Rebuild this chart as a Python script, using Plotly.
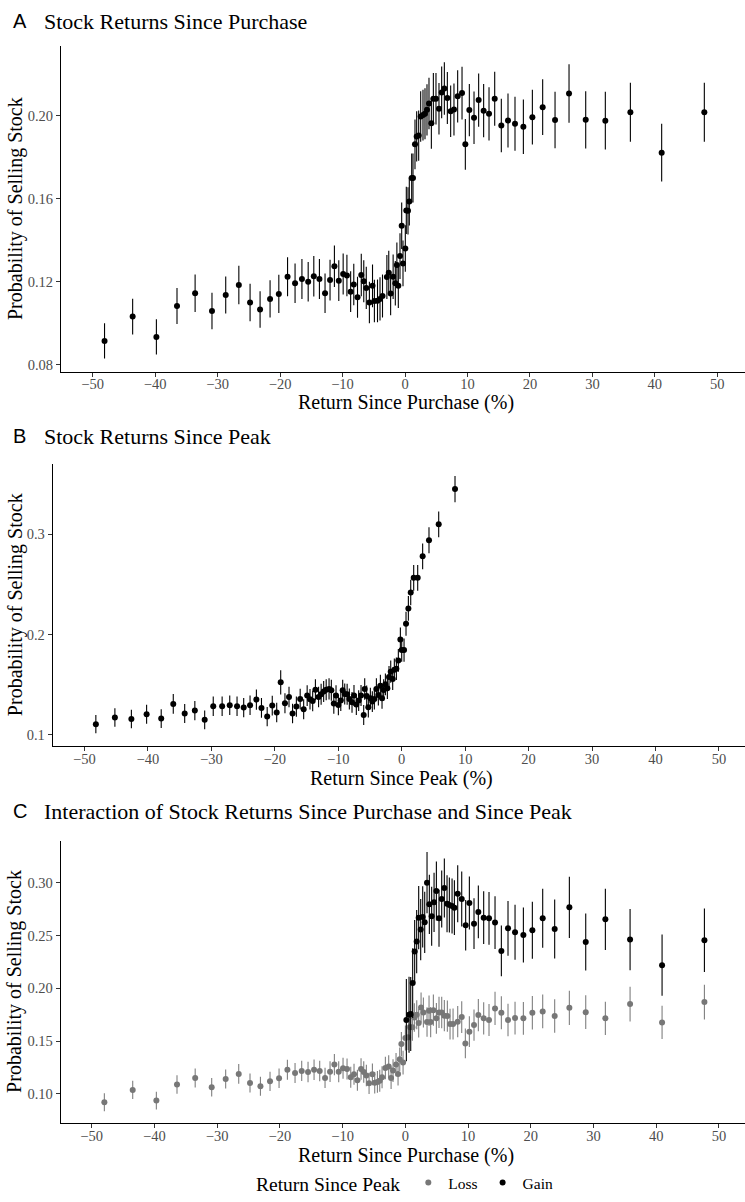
import plotly.graph_objects as go

# ---------------- Panel A: Return since purchase ----------------
a_x = [-48.1, -43.6, -39.8, -36.5, -33.6, -30.9, -28.7, -26.6, -24.8, -23.2, -21.6, -20.2,
       -18.8, -17.6, -16.5, -15.5, -14.6, -13.7, -12.8, -12.0, -11.3, -10.6, -9.9, -9.3,
       -8.7, -8.2, -7.6, -7.0, -6.6, -6.2, -5.7, -5.2, -4.9, -4.4, -4.0, -3.6, -2.9, -2.6,
       -2.3, -1.9, -1.55, -1.3, -1.07, -0.8, -0.53, -0.32, 0.05, 0.21, 0.48, 0.69, 1.07,
       1.28, 1.6, 1.87, 2.19, 2.51, 2.88, 3.2, 3.52, 3.84, 4.22, 4.54, 4.96, 5.44, 5.87,
       6.3, 6.78, 7.31, 7.84, 8.43, 9.13, 9.66, 10.3, 11.05, 11.79, 12.59, 13.45, 14.36,
       15.42, 16.49, 17.61, 18.95, 20.39, 22.04, 24.02, 26.26, 28.93, 32.07, 36.08, 41.09,
       47.92]
a_y = [0.0915, 0.1032, 0.0934, 0.1083, 0.1144, 0.1059, 0.1136, 0.1184, 0.1100, 0.1066, 0.1117,
       0.1141, 0.1224, 0.1192, 0.1213, 0.1200, 0.1226, 0.1213, 0.1144, 0.1208, 0.1274, 0.1205,
       0.1237, 0.1230, 0.1152, 0.1186, 0.1125, 0.1232, 0.1202, 0.1170, 0.1100, 0.1180, 0.1107,
       0.1108, 0.1117, 0.1131, 0.1223, 0.1243, 0.1143, 0.1224, 0.1192, 0.1280, 0.1181, 0.1323,
       0.1469, 0.1288, 0.1360, 0.1543, 0.1541, 0.1586, 0.1699, 0.1699, 0.1861, 0.1899, 0.1903,
       0.1995, 0.2002, 0.2008, 0.2027, 0.2058, 0.1962, 0.2080, 0.2080, 0.2032, 0.2111, 0.2130,
       0.2084, 0.2020, 0.2029, 0.2092, 0.2108, 0.1861, 0.2026, 0.1989, 0.2074, 0.2023, 0.2008,
       0.2080, 0.1952, 0.1976, 0.1960, 0.1946, 0.1992, 0.2040, 0.1978, 0.2106, 0.1979, 0.1975,
       0.2015, 0.1821, 0.2015]
a_err = [0.0085, 0.0086, 0.0085, 0.0087, 0.0090, 0.0088, 0.0089, 0.0093, 0.0090, 0.0088, 0.0090,
         0.0092, 0.0094, 0.0095, 0.0096, 0.0095, 0.0097, 0.0096, 0.0095, 0.0098, 0.0100, 0.0098,
         0.0099, 0.0100, 0.0098, 0.0100, 0.0099, 0.0102, 0.0101, 0.0102, 0.0100, 0.0103, 0.0102,
         0.0103, 0.0104, 0.0104, 0.0106, 0.0106, 0.0105, 0.0107, 0.0107, 0.0108, 0.0108, 0.0110,
         0.0112, 0.0110, 0.0112, 0.0114, 0.0114, 0.0116, 0.0118, 0.0118, 0.0120, 0.0121, 0.0121,
         0.0122, 0.0122, 0.0123, 0.0123, 0.0124, 0.0122, 0.0124, 0.0124, 0.0124, 0.0125, 0.0126,
         0.0125, 0.0124, 0.0125, 0.0126, 0.0127, 0.0122, 0.0126, 0.0126, 0.0128, 0.0128, 0.0128,
         0.0130, 0.0129, 0.0130, 0.0130, 0.0131, 0.0132, 0.0134, 0.0136, 0.0141, 0.0138, 0.0139,
         0.0142, 0.0139, 0.0142]

# ---------------- Panel B: Return since peak ----------------
b_x = [-48.2, -45.2, -42.6, -40.2, -37.9, -36.0, -34.2, -32.6, -31.05, -29.7, -28.3, -27.1,
       -25.95, -24.9, -23.9, -22.9, -22.1, -21.2, -20.4, -19.7, -19.07, -18.4, -17.76, -17.2,
       -16.6, -16.0, -15.45, -14.9, -14.45, -14.03, -13.6, -13.1, -12.7, -12.3, -11.9, -11.45,
       -11.09, -10.7, -10.35, -9.98, -9.6, -9.3, -8.98, -8.6, -8.25, -7.83, -7.52, -7.15, -6.78,
       -6.41, -5.99, -5.83, -5.52, -5.26, -4.94, -4.63, -4.31, -3.99, -3.68, -3.36, -3.1, -2.84,
       -2.57, -2.26, -2.0, -1.73, -1.42, -1.16, -0.84, -0.53, -0.21, 0.0, 0.37, 0.68, 1.05, 1.42,
       1.89, 2.52, 3.30, 4.30, 5.83, 8.40]
b_y = [0.1107, 0.1173, 0.1159, 0.1206, 0.1163, 0.1309, 0.1213, 0.1243, 0.1150, 0.1286, 0.1286,
       0.1296, 0.1286, 0.1272, 0.1296, 0.1352, 0.1269, 0.1183, 0.1292, 0.1223, 0.1524, 0.1315,
       0.1378, 0.1213, 0.1282, 0.1358, 0.1256, 0.1392, 0.1355, 0.1339, 0.1451, 0.1378, 0.1405,
       0.1432, 0.1451, 0.1458, 0.1445, 0.1312, 0.1392, 0.1299, 0.1342, 0.1445, 0.1408, 0.1405,
       0.1358, 0.1325, 0.1392, 0.1302, 0.1342, 0.1392, 0.1199, 0.1458, 0.1388, 0.1276, 0.1365,
       0.1332, 0.1358, 0.1458, 0.1398, 0.1491, 0.1365, 0.1448, 0.1504, 0.1465, 0.1577, 0.1630,
       0.1557, 0.1650, 0.1660, 0.1743, 0.1952, 0.1846, 0.1846, 0.2108, 0.2261, 0.2420, 0.2566,
       0.2566, 0.2781, 0.2941, 0.3100, 0.3451]
b_err = [0.0091, 0.0092, 0.0092, 0.0094, 0.0093, 0.0098, 0.0095, 0.0096, 0.0093, 0.0097, 0.0097,
         0.0098, 0.0097, 0.0097, 0.0098, 0.0100, 0.0098, 0.0096, 0.0099, 0.0097, 0.0120, 0.0100,
         0.0102, 0.0098, 0.0100, 0.0102, 0.0099, 0.0103, 0.0102, 0.0102, 0.0105, 0.0103, 0.0104,
         0.0105, 0.0105, 0.0106, 0.0105, 0.0102, 0.0104, 0.0102, 0.0103, 0.0106, 0.0105, 0.0105,
         0.0104, 0.0103, 0.0105, 0.0103, 0.0104, 0.0105, 0.0100, 0.0107, 0.0105, 0.0103, 0.0105,
         0.0104, 0.0105, 0.0107, 0.0106, 0.0108, 0.0105, 0.0107, 0.0108, 0.0108, 0.0110, 0.0111,
         0.0110, 0.0112, 0.0112, 0.0114, 0.0118, 0.0116, 0.0116, 0.0120, 0.0123, 0.0126, 0.0128,
         0.0128, 0.0128, 0.0129, 0.0128, 0.0130]

# ---------------- Panel C: interaction ----------------
c_loss_x = [-47.98, -43.46, -39.69, -36.4, -33.5, -30.87, -28.64, -26.56, -24.76, -23.1, -21.57,
            -20.13, -18.8, -17.58, -16.52, -15.51, -14.55, -13.65, -12.8, -12.0, -11.31, -10.62,
            -9.93, -9.29, -8.7, -8.18, -7.64, -7.06, -6.63, -6.21, -5.78, -5.25, -4.88, -4.45,
            -4.08, -3.71, -3.18, -2.65, -2.27, -1.96, -1.48, -1.16, -0.89, -0.63, -0.36, 0.01,
            0.43, 0.75, 1.13, 1.44, 1.82, 2.13, 2.51, 2.88, 3.46, 3.78, 4.04, 4.47, 4.95, 5.37,
            5.80, 6.22, 6.70, 7.13, 7.61, 8.35, 8.99, 9.57, 10.21, 10.95, 11.64, 12.49, 13.34,
            14.30, 15.31, 16.37, 17.49, 18.82, 20.25, 21.9, 23.81, 26.15, 28.76, 31.89, 35.83,
            40.93, 47.68]
c_loss_y = [0.0922, 0.1038, 0.0937, 0.1089, 0.1152, 0.1063, 0.1142, 0.1190, 0.1104, 0.1073,
            0.1120, 0.1149, 0.1230, 0.1199, 0.1218, 0.1208, 0.1230, 0.1218, 0.1152, 0.1211,
            0.1278, 0.1211, 0.1243, 0.1237, 0.1158, 0.1186, 0.1130, 0.1237, 0.1208, 0.1174,
            0.1101, 0.1186, 0.1107, 0.1114, 0.1126, 0.1158, 0.1246, 0.1259, 0.1152, 0.1221,
            0.1278, 0.1190, 0.1328, 0.1473, 0.1297, 0.1530, 0.1536, 0.1631, 0.1631, 0.1725,
            0.1750, 0.1671, 0.1820, 0.1772, 0.1681, 0.1788, 0.1681, 0.1794, 0.1716, 0.1772,
            0.1772, 0.1741, 0.1738, 0.1662, 0.1662, 0.1684, 0.1728, 0.1479, 0.1590, 0.1653,
            0.1747, 0.1716, 0.1700, 0.1810, 0.1769, 0.1700, 0.1719, 0.1716, 0.1769, 0.1782,
            0.1738, 0.1816, 0.1775, 0.1716, 0.1851, 0.1678, 0.1870]
c_loss_err = [0.0085, 0.0086, 0.0085, 0.0088, 0.0090, 0.0088, 0.0090, 0.0093, 0.0090, 0.0089,
              0.0091, 0.0092, 0.0095, 0.0095, 0.0096, 0.0096, 0.0097, 0.0097, 0.0096, 0.0098,
              0.0100, 0.0099, 0.0100, 0.0100, 0.0099, 0.0100, 0.0099, 0.0102, 0.0102, 0.0102,
              0.0101, 0.0103, 0.0102, 0.0103, 0.0104, 0.0105, 0.0107, 0.0108, 0.0106, 0.0108,
              0.0110, 0.0109, 0.0112, 0.0115, 0.0112, 0.0118, 0.0120, 0.0125, 0.0127, 0.0135,
              0.0138, 0.0136, 0.0142, 0.0142, 0.0140, 0.0145, 0.0143, 0.0148, 0.0146, 0.0148,
              0.0149, 0.0148, 0.0148, 0.0146, 0.0147, 0.0148, 0.0150, 0.0140, 0.0145, 0.0148,
              0.0152, 0.0152, 0.0152, 0.0158, 0.0156, 0.0154, 0.0155, 0.0156, 0.0158, 0.0159,
              0.0158, 0.0162, 0.0160, 0.0158, 0.0164, 0.0158, 0.0165]

c_gain_x = [0.165, 0.59, 0.86, 1.17, 1.49, 1.81, 2.13, 2.45, 2.77, 3.09, 3.46, 3.83, 4.2, 4.58,
            4.95, 5.37, 5.80, 6.22, 6.65, 7.02, 7.45, 7.82, 8.35, 8.99, 9.62, 10.21, 10.95, 11.64,
            12.49, 13.34, 14.3, 15.31, 16.37, 17.49, 18.82, 20.25, 21.9, 23.81, 26.15, 28.76,
            31.89, 35.83, 40.93, 47.68]
c_gain_y = [0.1700, 0.1750, 0.1757, 0.2050, 0.2349, 0.2443, 0.2670, 0.2557, 0.2677, 0.2626,
            0.3001, 0.2796, 0.2683, 0.2815, 0.2922, 0.2664, 0.2847, 0.2951, 0.2802, 0.2790,
            0.2780, 0.2765, 0.2897, 0.2847, 0.2598, 0.2809, 0.2613, 0.2724, 0.2670, 0.2664,
            0.2623, 0.2355, 0.2569, 0.2532, 0.2506, 0.2551, 0.2664, 0.2563, 0.2768, 0.2440,
            0.2654, 0.2462, 0.2220, 0.2456]
c_gain_err = [0.039, 0.036, 0.035, 0.033, 0.030, 0.030, 0.030, 0.029, 0.029, 0.029, 0.029, 0.028,
              0.028, 0.028, 0.028, 0.027, 0.027, 0.028, 0.027, 0.026, 0.026, 0.026, 0.027, 0.026,
              0.024, 0.025, 0.024, 0.025, 0.025, 0.025, 0.025, 0.024, 0.026, 0.026, 0.026, 0.027,
              0.028, 0.028, 0.029, 0.027, 0.029, 0.029, 0.029, 0.030]

x_ticks = [-50, -40, -30, -20, -10, 0, 10, 20, 30, 40, 50]
a_yticks = [0.08, 0.12, 0.16, 0.20]
b_yticks = [0.1, 0.2, 0.3]
c_yticks = [0.10, 0.15, 0.20, 0.25, 0.30]

# ---------------- Figure ----------------
W, H = 745, 1202
SERIF = "Liberation Serif, Times New Roman, serif"
SANS = "Liberation Sans, Arial, sans-serif"


def fx(px):
    return px / W


def fy(py):
    return 1 - py / H


def err(arr, color):
    return dict(type="data", array=arr, visible=True, thickness=1.1, width=0, color=color)


fig = go.Figure()
fig.add_trace(go.Scatter(x=a_x, y=a_y, mode="markers", xaxis="x", yaxis="y",
                         marker=dict(size=6, color="black"), error_y=err(a_err, "black"),
                         showlegend=False))
fig.add_trace(go.Scatter(x=b_x, y=b_y, mode="markers", xaxis="x2", yaxis="y2",
                         marker=dict(size=6, color="black"), error_y=err(b_err, "black"),
                         showlegend=False))
fig.add_trace(go.Scatter(x=c_loss_x, y=c_loss_y, mode="markers", xaxis="x3", yaxis="y3",
                         name="Loss", marker=dict(size=6, color="#777777"),
                         error_y=err(c_loss_err, "#7f7f7f")))
fig.add_trace(go.Scatter(x=c_gain_x, y=c_gain_y, mode="markers", xaxis="x3", yaxis="y3",
                         name="Gain", marker=dict(size=6, color="black"),
                         error_y=err(c_gain_err, "black")))

tickfont = dict(family=SERIF, size=14.5, color="#4d4d4d")
axis_common = dict(showline=True, linecolor="black", linewidth=1, showgrid=False, zeroline=False,
                   ticks="outside", ticklen=4, tickwidth=1, tickcolor="#333333",
                   tickfont=tickfont, fixedrange=True)
xaxis_common = dict(axis_common, ticklabelstandoff=-5, tickvals=x_ticks)

# panel pixel geometry
A = dict(l=61, r=745, t=46.4, b=372.7)
B = dict(l=52.7, r=745, t=465, b=748.3)
C = dict(l=60.7, r=745, t=842.7, b=1126)

fig.update_layout(
    width=W, height=H, margin=dict(l=0, r=0, t=0, b=0),
    paper_bgcolor="white", plot_bgcolor="white",
    xaxis=dict(domain=[fx(A["l"]), 1], anchor="y", range=[-55.07, 54.43], **xaxis_common),
    yaxis=dict(domain=[fy(A["b"]), fy(A["t"])], anchor="x", range=[0.07664, 0.2333],
               tickvals=a_yticks, tickformat=".2f", **axis_common),
    xaxis2=dict(domain=[fx(B["l"]), 1], anchor="y2", range=[-55.0, 54.1], **xaxis_common),
    yaxis2=dict(domain=[fy(B["b"]), fy(B["t"])], anchor="x2", range=[0.0885, 0.3703],
                tickvals=b_yticks, tickformat=".1f", **axis_common),
    xaxis3=dict(domain=[fx(C["l"]), 1], anchor="y3", range=[-54.94, 54.15], **xaxis_common),
    yaxis3=dict(domain=[fy(C["b"]), fy(C["t"])], anchor="x3", range=[0.0723, 0.340],
                tickvals=c_yticks, tickformat=".2f", **axis_common),
    legend=dict(orientation="h", x=fx(406), xanchor="center", y=fy(1187), yanchor="middle",
                title=dict(text="Return Since Peak", font=dict(family=SERIF, size=19.5, color="black")),
                font=dict(family=SERIF, size=15.5, color="black"), bgcolor="rgba(0,0,0,0)",
                itemwidth=30, tracegroupgap=0),
)

ann = []
panel_titles = [("A", "Stock Returns Since Purchase", 21),
                ("B", "Stock Returns Since Peak", 437),
                ("C", "Interaction of Stock Returns Since Purchase and Since Peak", 813)]
for letter, title, yy in panel_titles:
    ann.append(dict(text=letter, x=fx(11), y=fy(yy), xref="paper", yref="paper",
                    xanchor="left", yanchor="middle", showarrow=False,
                    font=dict(family=SANS, size=20, color="black")))
    ann.append(dict(text=title, x=fx(42), y=fy(yy + 1), xref="paper", yref="paper",
                    xanchor="left", yanchor="middle", showarrow=False,
                    font=dict(family=SERIF, size=22, color="black")))

ytitle_font = dict(family=SERIF, size=20, color="black")
for (pl, xt_text, xt_y, xc) in [(A, "Return Since Purchase (%)", 404, 405.5),
                               (B, "Return Since Peak (%)", 780, 401.5),
                               (C, "Return Since Purchase (%)", 1158, 405.5)]:
    ann.append(dict(text="Probability of Selling Stock", x=fx(15), y=fy((pl["t"] + pl["b"]) / 2),
                    xref="paper", yref="paper", xanchor="center", yanchor="middle",
                    textangle=-90, showarrow=False, font=ytitle_font))
    ann.append(dict(text=xt_text, x=fx(xc), y=fy(xt_y), xref="paper", yref="paper",
                    xanchor="center", yanchor="middle", showarrow=False, font=ytitle_font))

fig.update_layout(annotations=ann)
fig.write_html("out.html", config={"displayModeBar": False},
               post_script="document.body.style.margin='0';document.body.style.overflow='hidden';")
